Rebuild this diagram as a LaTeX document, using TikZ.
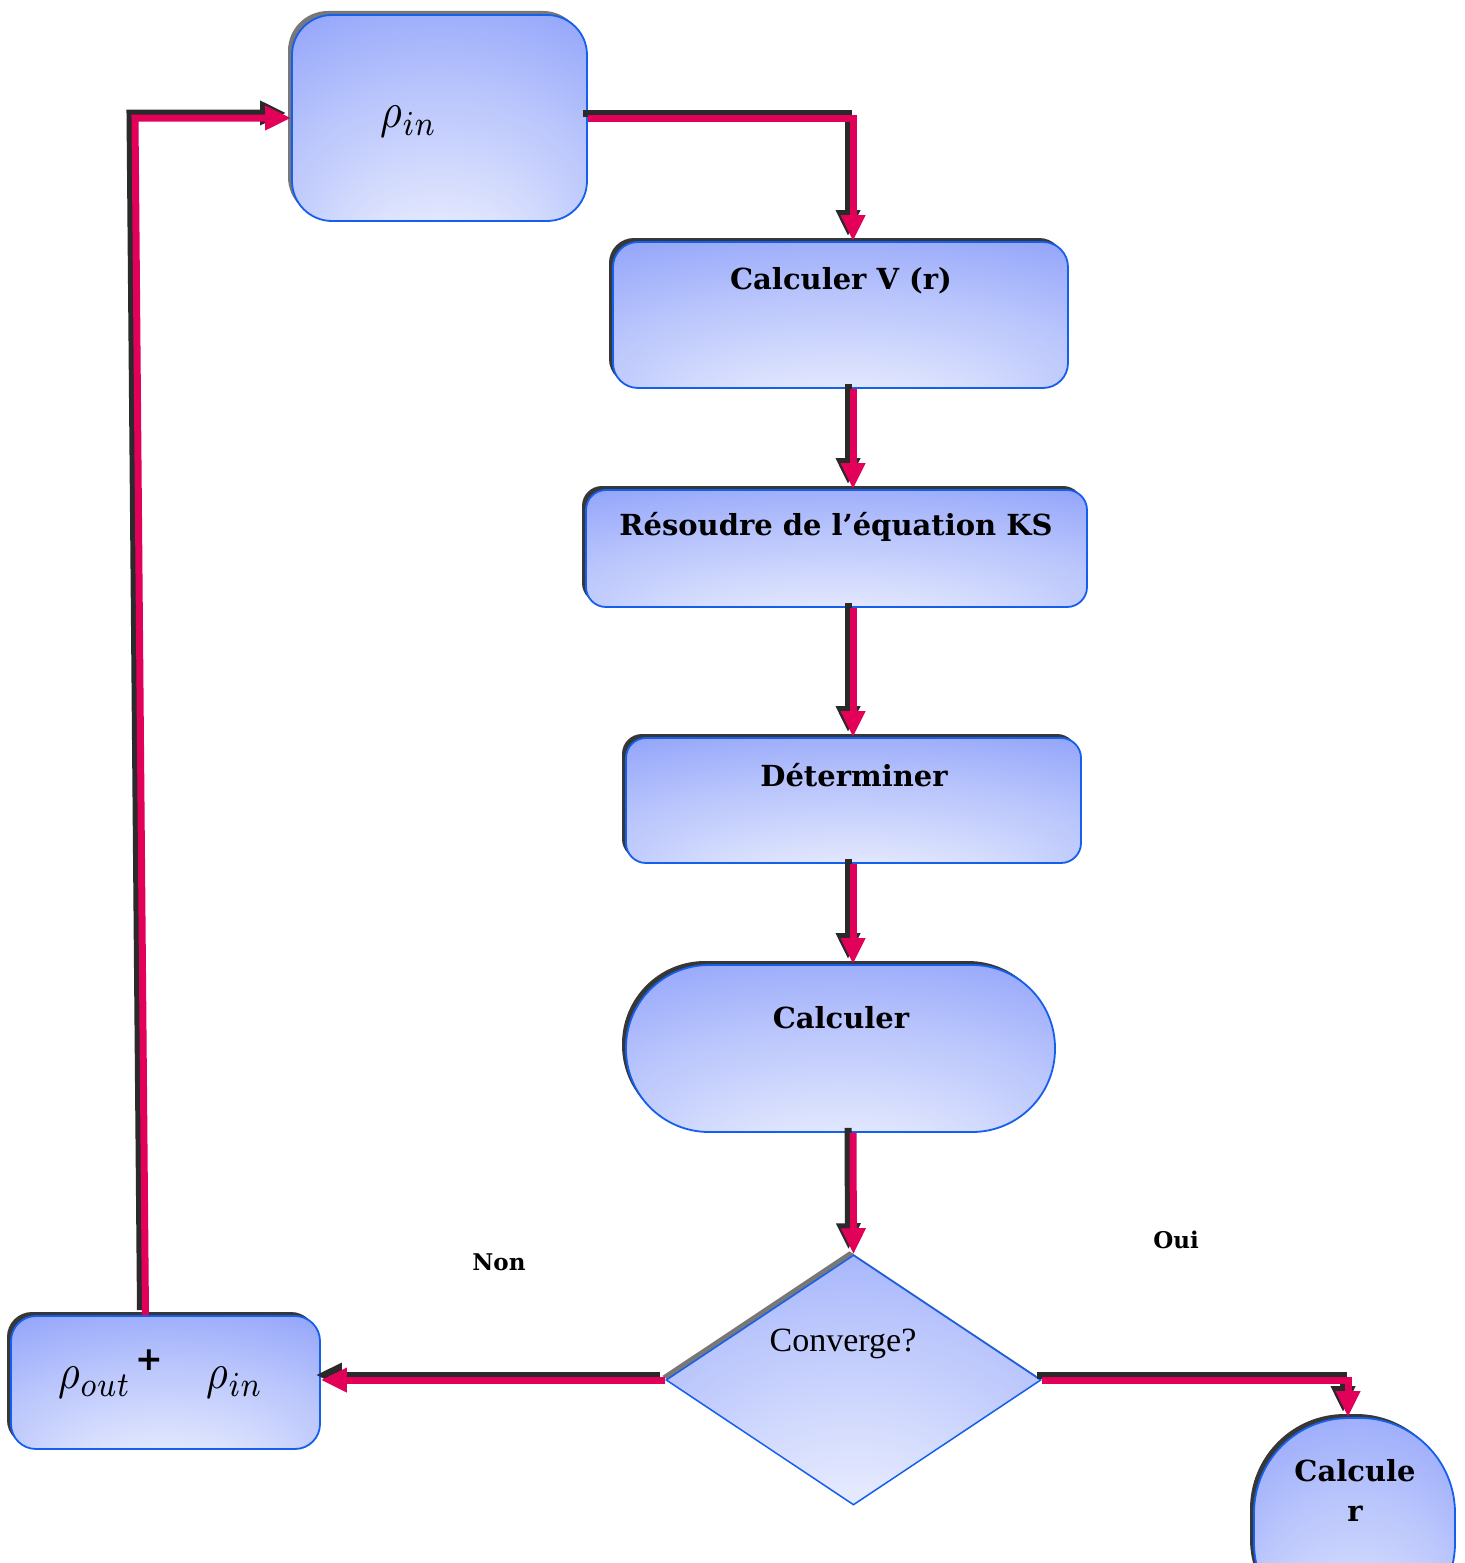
\documentclass[tikz,border=0pt]{standalone}
\usepackage{fontspec}
\setmainfont{DejaVu Serif}
\setsansfont{DejaVu Sans}
\newfontfamily\tnr{Liberation Serif}
\usetikzlibrary{shapes.geometric,arrows.meta,shadows}
\definecolor{bxdark}{RGB}{134,154,250}
\definecolor{bxmid}{RGB}{184,196,252}
\definecolor{bxlight}{RGB}{228,233,254}
\definecolor{bxline}{RGB}{20,95,235}
\definecolor{arrred}{RGB}{227,0,88}
\definecolor{arrblk}{RGB}{42,42,42}
\definecolor{shd}{RGB}{55,55,55}
\definecolor{shdlight}{RGB}{120,120,120}
\pgfdeclareradialshading{boxshade}{\pgfpoint{0bp}{-46bp}}{color(0bp)=(bxlight); color(10bp)=(bxlight); color(28bp)=(bxmid); color(46bp)=(bxdark); color(50bp)=(bxdark)}
\pgfdeclareradialshading{diashade}{\pgfpoint{0bp}{-40bp}}{color(0bp)=(bxlight); color(10bp)=(bxlight); color(30bp)=(bxmid); color(50bp)=(bxdark)}
\newcommand{\mymath}[1]{\scalebox{4.2}[5]{$#1$}}
\tikzset{
  box/.style={draw=bxline, line width=1.8pt, shading=boxshade, inner sep=0pt,
    general shadow={fill=#1, shadow xshift=-4pt, shadow yshift=4pt}},
  box/.default=shd,
  lbl/.style={font=\fontsize{29}{34}\selectfont\bfseries, inner sep=0pt},
  small/.style={font=\fontsize{23}{27}\selectfont\bfseries, inner sep=0pt},
  mth/.style={font=\normalsize, inner sep=0pt},
  redarrow/.style={draw=arrred, line width=7pt, -{Triangle[length=26pt,width=23pt]}},
  blkarrow/.style={draw=arrblk, line width=7pt, -{Triangle[length=26pt,width=23pt]},
    transform canvas={xshift=-5pt,yshift=5pt}},
}
\begin{document}
\begin{tikzpicture}[x=1pt,y=-1pt]
\useasboundingbox (0,0) rectangle (1464,1563);

% boxes
\node[box=shdlight, rounded corners=40pt, minimum width=295pt, minimum height=206pt] (rin) at (439.5,118) {};
\node[box, rounded corners=25pt, minimum width=455pt, minimum height=146pt] (cv) at (840.5,315) {};
\node[box, rounded corners=20pt, minimum width=501pt, minimum height=117pt] (ks) at (836.5,548.5) {};
\node[box, rounded corners=20pt, minimum width=455pt, minimum height=125pt] (det) at (853.5,800.5) {};
\node[box, rounded corners=83pt, minimum width=429pt, minimum height=167pt] (calc) at (840.5,1048.5) {};
\node[diamond, box=shdlight, shading=diashade, line width=1.5pt, minimum width=375pt, minimum height=250pt, shape aspect=1.5] (conv) at (853.5,1380) {};
\node[box, rounded corners=25pt, minimum width=309pt, minimum height=133pt] (mix) at (165.5,1382.5) {};
\node[box, rounded corners=95pt, minimum width=201pt, minimum height=220pt] (res) at (1354.5,1528) {};

% texts
\node[mth] (m1) at (409,122) {\mymath{\rho_{in}}};
\node[lbl] (t2) at (841,281) {Calculer V (r)};
\node[lbl] (t3) at (836,527) {Résoudre de l’équation KS};
\node[lbl] (t4) at (854,775) {Déterminer};
\node[lbl] (t5) at (841,1018) {Calculer};
\node[inner sep=0pt, font=\tnr\fontsize{34}{38}\selectfont] (t6) at (843,1344) {Converge?};
\node[lbl, align=center, font=\fontsize{29}{40}\selectfont\bfseries] (t7) at (1355,1490) {Calcule\\r};
\node[mth] (m2) at (95,1383) {\mymath{\rho_{out}}};
\node[inner sep=0pt, font=\sffamily\bfseries\fontsize{33}{36}\selectfont] (m3) at (149,1360) {+};
\node[mth] (m4) at (235,1383) {\mymath{\rho_{in}}};
\node[small] (non) at (499,1262) {Non};
\node[small] (oui) at (1176,1240) {Oui};

% connector corners
\coordinate (c1) at (853,118);
\coordinate (c2) at (1348,1380);
\coordinate (c3) at (135,118);

% connectors (black shadow then red)
\foreach \s in {blkarrow,redarrow}{
  \draw[\s] (rin.east) -- (c1) -- (c1 |- cv.north);
  \draw[\s] (c1 |- cv.south) -- (c1 |- ks.north);
  \draw[\s] (c1 |- ks.south) -- (c1 |- det.north);
  \draw[\s] (c1 |- det.south) -- (c1 |- calc.north);
  \draw[\s] (c1 |- calc.south) -- (conv.north);
  \draw[\s] (conv.west) -- (conv.west -| mix.east);
  \draw[\s] (conv.east) -- (c2) -- (c2 |- res.north);
  \draw[\s] ([xshift=-20pt]mix.north) -- (c3) -- (rin.west);
}
\end{tikzpicture}
\end{document}
